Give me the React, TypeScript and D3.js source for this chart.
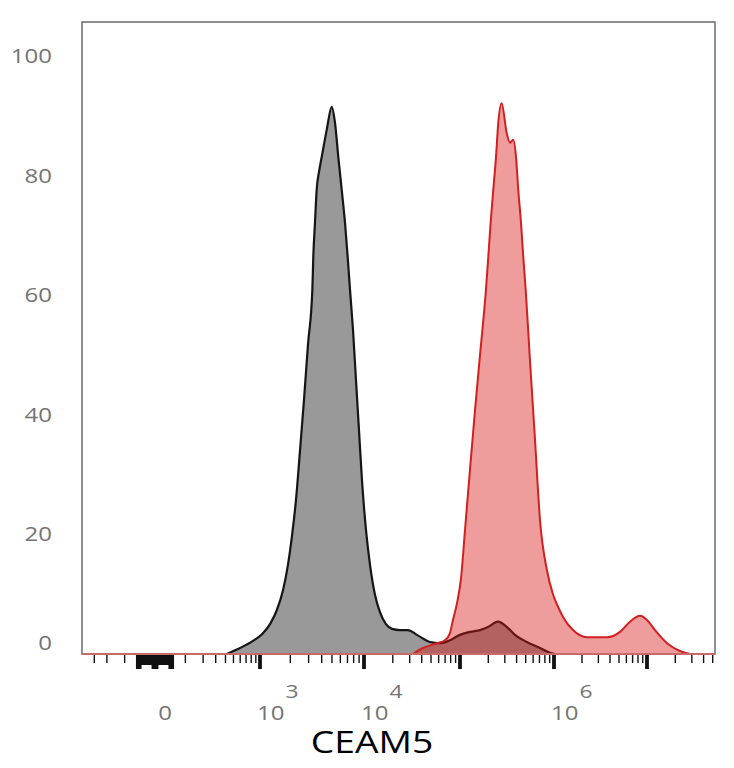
import React from 'react';
import * as d3 from 'd3';

// Histograms: [log10(intensity), % of max]
const isotypeHist: [number, number][] = [
  [2.617, 0], [2.776, 1.0], [2.923, 2.2], [3.02, 3.3], [3.101, 5.0], [3.17, 7.4],
  [3.23, 10.7], [3.278, 14.9], [3.317, 19.7], [3.356, 25.8], [3.395, 34.1], [3.433, 42.5],
  [3.471, 51.7], [3.513, 60.9], [3.522, 66.4], [3.538, 72.1], [3.554, 77.6], [3.579, 80.9],
  [3.602, 83.1], [3.649, 87.6], [3.697, 91.5], [3.728, 88.8], [3.759, 83.1], [3.791, 77.6],
  [3.822, 72.1], [3.847, 66.4], [3.869, 60.9], [3.897, 54.2], [3.925, 45.8], [3.953, 37.5],
  [3.981, 29.1], [4.021, 20.7], [4.063, 14.9], [4.115, 9.9], [4.167, 7.0], [4.23, 5.0],
  [4.293, 4.2], [4.376, 4.0], [4.459, 4.0], [4.553, 3.2], [4.688, 2.0], [4.792, 1.8],
  [4.896, 2.3], [5.0, 3.2], [5.106, 3.7], [5.213, 4.0], [5.298, 4.5], [5.404, 5.4],
  [5.5, 4.5], [5.585, 3.2], [5.712, 2.0], [5.851, 1.0], [5.957, 0.2], [6.011, 0],
];

const ceam5Hist: [number, number][] = [
  [4.511, 0], [4.615, 1.0], [4.76, 1.8], [4.844, 2.3], [4.896, 3.5], [4.927, 5.7],
  [4.969, 8.5], [5.011, 12.7], [5.053, 20.7], [5.106, 30.8], [5.16, 40.8], [5.213, 50.0],
  [5.276, 60.9], [5.301, 66.4], [5.326, 72.1], [5.354, 77.6], [5.383, 83.1], [5.407, 88.8],
  [5.443, 92.1], [5.497, 87.1], [5.532, 85.5], [5.567, 86.0], [5.596, 83.1], [5.62, 77.6],
  [5.649, 72.1], [5.673, 66.4], [5.699, 60.9], [5.744, 49.2], [5.798, 35.8], [5.851, 22.4],
  [5.925, 14.0], [5.989, 10.0], [6.043, 7.9], [6.097, 6.2], [6.204, 4.0], [6.355, 2.8],
  [6.57, 2.8], [6.71, 3.7], [6.817, 5.4], [6.925, 6.4], [7.0, 5.7], [7.085, 4.0],
  [7.213, 1.8], [7.351, 0.5], [7.457, 0],
];

const yTicks = [0, 20, 40, 60, 80, 100];
const majorTicks = [1e3, 1e4, 1e5, 1e6, 1e7];
const labeledTicks: { v: number; exp: string | null }[] = [
  { v: 0, exp: null },
  { v: 1e3, exp: '3' },
  { v: 1e4, exp: '4' },
  { v: 1e6, exp: '6' },
];
const decades = [100, 1e3, 1e4, 1e5, 1e6];
const multipliers = [2, 3, 4, 5, 6, 7, 8, 9];
const extraMinor = [100, 2e7, 3e7, 4e7, 5e7];
const negTicks = [-300, -200, -100];
const zeroCluster = [-50, -45, -40, -35, -30, -25, -20, -15, -10, -5, 0, 5, 10, 15, 20, 25, 30, 35, 40, 45, 50];
const zeroLong = [-50, -45, -40, -5, 0, 5, 40, 45, 50];
const xTitle = 'CEAM5';

// layout
const W = 734;
const H = 768;
const plot = { left: 82, right: 715, top: 22, bottom: 654 };

// biexponential-like axis: symlog transform + piecewise display
const C = 100;
const biex = (v: number) => Math.sign(v) * Math.log10(1 + Math.abs(v) / C);
const breakVals = [-1000, 0, 1e3, 1e4, 1e5, 1e6, 1e7, 1e8];
const breakPx = [50, 155, 260, 364, 460, 554, 647, 741];
const xT = d3.scaleLinear().domain(breakVals.map(biex)).range(breakPx);
const x = (v: number) => xT(biex(v));
const y = d3.scaleLinear().domain([0, 100]).range([plot.bottom, 56]);

const area = d3
  .area<[number, number]>()
  .x((d) => x(Math.pow(10, d[0])))
  .y0(y(0))
  .y1((d) => y(d[1]))
  .curve(d3.curveMonotoneX);
const line = d3
  .line<[number, number]>()
  .x((d) => x(Math.pow(10, d[0])))
  .y((d) => y(d[1]))
  .curve(d3.curveMonotoneX);

const FONT = "'Open Sans', 'DejaVu Sans', sans-serif";
const LABEL = '#747474';

export default function App() {
  const minor = decades.flatMap((d) => multipliers.map((m) => d * m)).concat(extraMinor);
  const tickY = plot.bottom + 1;
  return (
    <svg
      width={W}
      height={H}
      style={{ position: 'absolute', left: 0, top: 0, background: '#fff' }}
    >
      <defs>
        <clipPath id="plotClip">
          <rect x={plot.left} y={plot.top} width={plot.right - plot.left} height={plot.bottom - plot.top} />
        </clipPath>
      </defs>
      <rect x={0} y={0} width={W} height={H} fill="#fff" />

      <g clipPath="url(#plotClip)">
        <path d={area(isotypeHist) || ''} fill="#999999" />
        <path d={line(isotypeHist) || ''} fill="none" stroke="#151515" strokeWidth={2.2} strokeLinejoin="round" />
        <path d={area(ceam5Hist) || ''} fill="rgba(215,20,20,0.42)" />
        <path d={line(ceam5Hist) || ''} fill="none" stroke="#d21f1f" strokeWidth={2} strokeLinejoin="round" />
      </g>

      {/* frame */}
      <rect
        x={plot.left}
        y={plot.top}
        width={plot.right - plot.left}
        height={plot.bottom - plot.top}
        fill="none"
        stroke="#6a6a6a"
        strokeWidth={1.5}
      />
      <line x1={plot.left} x2={plot.right} y1={plot.bottom} y2={plot.bottom} stroke="#c86a6a" strokeWidth={2} />

      {/* x ticks */}
      <g stroke="#111">
        {negTicks.concat(minor).map((v) => (
          <line key={'m' + v} x1={x(v)} x2={x(v)} y1={tickY} y2={tickY + 8} strokeWidth={1.4} />
        ))}
        {zeroCluster.map((v) => (
          <line
            key={'z' + v}
            x1={x(v)}
            x2={x(v)}
            y1={tickY}
            y2={tickY + (zeroLong.includes(v) ? 14 : 10)}
            strokeWidth={2.6}
          />
        ))}
        {majorTicks.map((v) => (
          <line key={'M' + v} x1={x(v)} x2={x(v)} y1={tickY} y2={tickY + 14} strokeWidth={3.8} />
        ))}
      </g>

      {/* x labels */}
      {labeledTicks.map((t) =>
        t.exp === null ? (
          <text
            key={'l' + t.v}
            transform={`translate(${x(t.v) + 10},720) scale(1.2,1)`}
            textAnchor="middle"
            fontFamily={FONT}
            fontSize={20}
            fill={LABEL}
          >
            0
          </text>
        ) : (
          <text
            key={'l' + t.v}
            transform={`translate(${x(t.v) - 3},720) scale(1.2,1)`}
            fontFamily={FONT}
            fontSize={20}
            fill={LABEL}
          >
            10
            <tspan dx={1} dy={-22} fontSize={19}>
              {t.exp}
            </tspan>
          </text>
        )
      )}

      {/* y labels */}
      {yTicks.map((v) => (
        <text
          key={'y' + v}
          transform={`translate(52,${y(v) + (v === 0 ? -4 : 7)}) scale(1.2,1)`}
          textAnchor="end"
          fontFamily={FONT}
          fontSize={20}
          fill={LABEL}
        >
          {v}
        </text>
      ))}

      <text
        transform={`translate(372,753) scale(1.2,1)`}
        textAnchor="middle"
        fontFamily={FONT}
        fontSize={31}
        fill="#000"
      >
        {xTitle}
      </text>
    </svg>
  );
}
